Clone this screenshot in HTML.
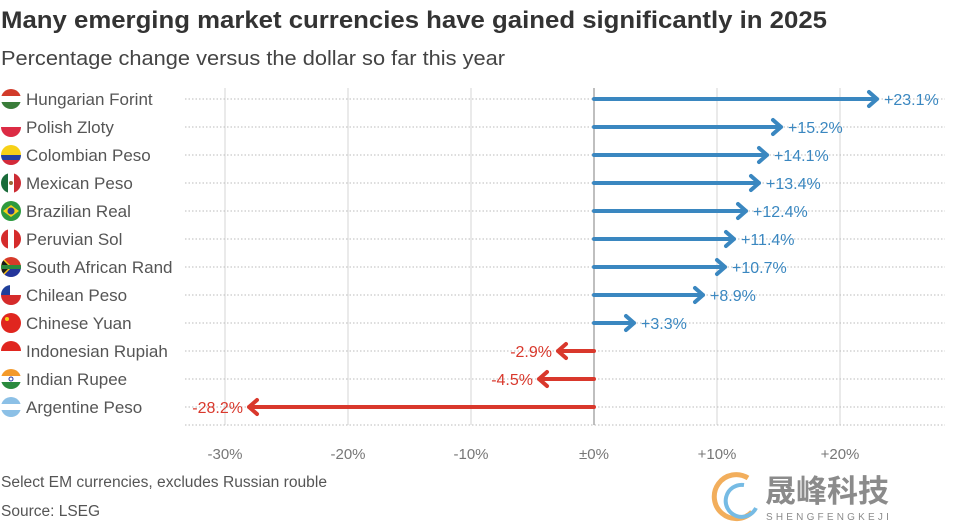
<!DOCTYPE html>
<html><head><meta charset="utf-8"><style>
body{margin:0;background:#fff;}
svg{display:block;font-family:"Liberation Sans",sans-serif;}
</style></head><body>
<svg width="956" height="522" viewBox="0 0 956 522">
<text x="1" y="28" font-size="24" font-weight="bold" fill="#333" textLength="826" lengthAdjust="spacingAndGlyphs">Many emerging market currencies have gained significantly in 2025</text>
<text x="1" y="65" font-size="20" fill="#444" textLength="504" lengthAdjust="spacingAndGlyphs">Percentage change versus the dollar so far this year</text>
<g stroke="#ddd" stroke-width="1.2">
<line x1="225" y1="88" x2="225" y2="425"/><line x1="348" y1="88" x2="348" y2="425"/><line x1="471" y1="88" x2="471" y2="425"/><line x1="717" y1="88" x2="717" y2="425"/><line x1="840" y1="88" x2="840" y2="425"/>
</g>
<g stroke="#bbb" stroke-width="1" stroke-dasharray="1.5,2">
<line x1="185" y1="99" x2="945" y2="99"/><line x1="185" y1="127" x2="945" y2="127"/><line x1="185" y1="155" x2="945" y2="155"/><line x1="185" y1="183" x2="945" y2="183"/><line x1="185" y1="211" x2="945" y2="211"/><line x1="185" y1="239" x2="945" y2="239"/><line x1="185" y1="267" x2="945" y2="267"/><line x1="185" y1="295" x2="945" y2="295"/><line x1="185" y1="323" x2="945" y2="323"/><line x1="185" y1="351" x2="945" y2="351"/><line x1="185" y1="379" x2="945" y2="379"/><line x1="185" y1="407" x2="945" y2="407"/><line x1="185" y1="425" x2="945" y2="425"/>
</g>
<line x1="594" y1="88" x2="594" y2="425" stroke="#aaa" stroke-width="1.5"/>
<g font-size="17" fill="#555">
<text x="26" y="105">Hungarian Forint</text><text x="26" y="133">Polish Zloty</text><text x="26" y="161">Colombian Peso</text><text x="26" y="189">Mexican Peso</text><text x="26" y="217">Brazilian Real</text><text x="26" y="245">Peruvian Sol</text><text x="26" y="273">South African Rand</text><text x="26" y="301">Chilean Peso</text><text x="26" y="329">Chinese Yuan</text><text x="26" y="357">Indonesian Rupiah</text><text x="26" y="385">Indian Rupee</text><text x="26" y="413">Argentine Peso</text>
</g>
<defs><clipPath id="c"><circle cx="0" cy="0" r="10"/></clipPath></defs>
<g transform="translate(11,99)" clip-path="url(#c)"><rect x="-10" y="-10" width="20" height="7" fill="#d23b2a"/><rect x="-10" y="-3" width="20" height="6" fill="#fff"/><rect x="-10" y="3" width="20" height="7" fill="#3a7d3a"/></g>
<g transform="translate(11,127)" clip-path="url(#c)"><rect x="-10" y="-10" width="20" height="10" fill="#fff"/><rect x="-10" y="0" width="20" height="10" fill="#dc2b44"/></g>
<g transform="translate(11,155)" clip-path="url(#c)"><rect x="-10" y="-10" width="20" height="10" fill="#f7d117"/><rect x="-10" y="0" width="20" height="5" fill="#2441a0"/><rect x="-10" y="5" width="20" height="5" fill="#d32a3a"/></g>
<g transform="translate(11,183)" clip-path="url(#c)"><rect x="-10" y="-10" width="7" height="20" fill="#1a6b3a"/><rect x="-3" y="-10" width="6" height="20" fill="#fff"/><rect x="3" y="-10" width="7" height="20" fill="#cc2b33"/><circle r="2" fill="#9a6a3a"/></g>
<g transform="translate(11,211)" clip-path="url(#c)"><rect x="-10" y="-10" width="20" height="20" fill="#2d9a3e"/><polygon points="-8,0 0,-6 8,0 0,6" fill="#f7d117"/><circle r="3.5" fill="#2a3f8f"/></g>
<g transform="translate(11,239)" clip-path="url(#c)"><rect x="-10" y="-10" width="7" height="20" fill="#d52b2b"/><rect x="-3" y="-10" width="6" height="20" fill="#fff"/><rect x="3" y="-10" width="7" height="20" fill="#d52b2b"/></g>
<g transform="translate(11,267)" clip-path="url(#c)"><rect x="-10" y="-10" width="20" height="10" fill="#d63a2a"/><rect x="-10" y="0" width="20" height="10" fill="#24359a"/><polygon points="-10,-10 0,0 -10,10" fill="#1a1a1a" stroke="#f7c317" stroke-width="1.5"/><polygon points="-10,-2 10,-2 10,2 -10,2" fill="#2a8a3e"/></g>
<g transform="translate(11,295)" clip-path="url(#c)"><rect x="-10" y="-10" width="20" height="10" fill="#fff"/><rect x="-10" y="0" width="20" height="10" fill="#d52b2b"/><rect x="-10" y="-10" width="9" height="10" fill="#1f3f9a"/></g>
<g transform="translate(11,323)" clip-path="url(#c)"><rect x="-10" y="-10" width="20" height="20" fill="#e0261f"/><circle cx="-4" cy="-4" r="2" fill="#f7d117"/></g>
<g transform="translate(11,351)" clip-path="url(#c)"><rect x="-10" y="-10" width="20" height="10" fill="#e0261f"/><rect x="-10" y="0" width="20" height="10" fill="#fff"/></g>
<g transform="translate(11,379)" clip-path="url(#c)"><rect x="-10" y="-10" width="20" height="7" fill="#f39a2b"/><rect x="-10" y="-3" width="20" height="6" fill="#fff"/><rect x="-10" y="3" width="20" height="7" fill="#2a8a3e"/><circle r="2" fill="none" stroke="#24359a"/></g>
<g transform="translate(11,407)" clip-path="url(#c)"><rect x="-10" y="-10" width="20" height="7" fill="#8cc0e6"/><rect x="-10" y="-3" width="20" height="6" fill="#fff"/><rect x="-10" y="3" width="20" height="7" fill="#8cc0e6"/></g>
<g stroke="#3a87c0" stroke-width="4" fill="none" stroke-linecap="round" stroke-linejoin="round">
<path d="M594 99H877M869 92L877 99L869 106"/>
<path d="M594 127H781M773 120L781 127L773 134"/>
<path d="M594 155H767M759 148L767 155L759 162"/>
<path d="M594 183H759M751 176L759 183L751 190"/>
<path d="M594 211H746M738 204L746 211L738 218"/>
<path d="M594 239H734M726 232L734 239L726 246"/>
<path d="M594 267H725M717 260L725 267L717 274"/>
<path d="M594 295H703M695 288L703 295L695 302"/>
<path d="M594 323H634M626 316L634 323L626 330"/>
</g>
<g stroke="#d9382c" stroke-width="4" fill="none" stroke-linecap="round" stroke-linejoin="round">
<path d="M594 351H558M566 344L558 351L566 358"/>
<path d="M594 379H539M547 372L539 379L547 386"/>
<path d="M594 407H249M257 400L249 407L257 414"/>
</g>
<g font-size="16" fill="#3a87c0">
<text x="884" y="105">+23.1%</text><text x="788" y="133">+15.2%</text><text x="774" y="161">+14.1%</text><text x="766" y="189">+13.4%</text><text x="753" y="217">+12.4%</text><text x="741" y="245">+11.4%</text><text x="732" y="273">+10.7%</text><text x="710" y="301">+8.9%</text><text x="641" y="329">+3.3%</text>
</g>
<g font-size="16" fill="#d9382c" text-anchor="end">
<text x="552" y="357">-2.9%</text><text x="533" y="385">-4.5%</text><text x="243" y="413">-28.2%</text>
</g>
<g font-size="15" fill="#777" text-anchor="middle">
<text x="225" y="459">-30%</text><text x="348" y="459">-20%</text><text x="471" y="459">-10%</text><text x="594" y="459">±0%</text><text x="717" y="459">+10%</text><text x="840" y="459">+20%</text>
</g>
<text x="1" y="487" font-size="15.5" fill="#555" textLength="326" lengthAdjust="spacingAndGlyphs">Select EM currencies, excludes Russian rouble</text>
<text x="1" y="516" font-size="15.5" fill="#555">Source: LSEG</text>
<g opacity="0.85">
<path d="M748 478 A22 22 0 1 0 752 512" stroke="#f0a040" stroke-width="5" fill="none"/>
<path d="M744 485 A16 16 0 1 0 756 508" stroke="#5fb0e0" stroke-width="4" fill="none"/>
<text x="765" y="502" font-size="31" font-weight="bold" fill="#777" font-family="'Noto Sans CJK SC',sans-serif">晟峰科技</text>
<text x="766" y="520" font-size="10" fill="#777" letter-spacing="3.2">SHENGFENGKEJI</text>
</g>
</svg>
</body></html>
